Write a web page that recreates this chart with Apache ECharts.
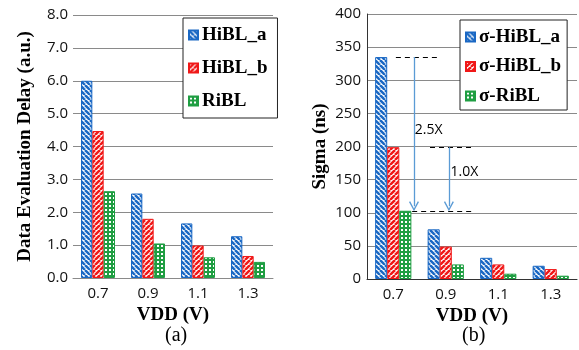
<!DOCTYPE html>
<html><head><meta charset="utf-8">
<script src="https://cdn.jsdelivr.net/npm/echarts@6/dist/echarts.min.js"></script>
<style>html,body{margin:0;padding:0;background:#fff}#c{width:579px;height:350px}</style>
</head><body><div id="c"></div>
<script>
const categories = ['0.7', '0.9', '1.1', '1.3'];
const delayHiBLa = [6.0, 2.57, 1.66, 1.27];
const delayHiBLb = [4.47, 1.8, 0.99, 0.67];
const delayRiBL = [2.64, 1.05, 0.63, 0.49];
const sigmaHiBLa = [335, 75, 32, 20];
const sigmaHiBLb = [199, 49, 22, 15];
const sigmaRiBL = [103, 22, 8, 5];
const delayNames = ['HiBL_a', 'HiBL_b', 'RiBL'];
const sigmaNames = ['σ-HiBL_a', 'σ-HiBL_b', 'σ-RiBL'];
const ratioLabels = ['2.5X', '1.0X'];

const BLUE = '#1a68c4', RED = '#f01818', GREEN = '#1f9e42';

function stripe(color, back) {
  const s = 5, c = document.createElement('canvas');
  c.width = c.height = s;
  const g = c.getContext('2d');
  g.fillStyle = '#fff'; g.fillRect(0, 0, s, s);
  g.strokeStyle = color; g.lineWidth = 2.5;
  for (let k = -1; k <= 1; k++) {
    g.beginPath();
    if (back) { g.moveTo(k * s, 0); g.lineTo(k * s + s, s); }
    else { g.moveTo(k * s, s); g.lineTo(k * s + s, 0); }
    g.stroke();
  }
  return { image: c, repeat: 'repeat' };
}
function check(color) {
  const s = 4, c = document.createElement('canvas');
  c.width = c.height = s;
  const g = c.getContext('2d');
  g.fillStyle = color; g.fillRect(0, 0, s, s);
  g.fillStyle = '#fff';
  g.fillRect(1, 1, 2, 2);
  return { image: c, repeat: 'repeat' };
}
const fills = [stripe(BLUE, true), stripe(RED, false), check(GREEN)];
const borders = [BLUE, RED, GREEN];

const serifBold = { fontFamily: 'Liberation Serif', fontWeight: 'bold', color: '#000' };
const tickFont = { fontFamily: 'Open Sans', fontSize: 15, color: '#111' };
const gridLine = { lineStyle: { color: '#8a8a8a', width: 1 } };

function barSeries(name, data, i, axis) {
  return {
    type: 'bar', name, data, xAxisIndex: axis, yAxisIndex: axis,
    barGap: '0%', barCategoryGap: axis === 0 ? '32%' : '31%',
    itemStyle: { color: fills[i], borderColor: borders[i], borderWidth: 1 },
    emphasis: { disabled: true }
  };
}

const dash = { type: [5, 4], color: '#000', width: 1.2, opacity: 1 };
const arrowStyle = { color: '#5b9bd5', width: 1.3, type: 'solid', opacity: 1 };
const chevron = 'path://M0,9 L5,0 L10,9 L8.8,9.8 L5,2.6 L1.2,9.8 Z';

const option = {
  animation: false,
  grid: [
    { left: 73, top: 15, width: 200, height: 263 },
    { left: 367, top: 14, width: 210, height: 265 }
  ],
  xAxis: [
    { type: 'category', gridIndex: 0, data: categories,
      axisLine: { lineStyle: { color: '#8a8a8a' } }, axisTick: { show: false },
      axisLabel: { ...tickFont, margin: 8 },
      name: 'VDD (V)', nameLocation: 'middle', nameGap: 25,
      nameTextStyle: { ...serifBold, fontSize: 19 } },
    { type: 'category', gridIndex: 1, data: categories,
      axisLine: { lineStyle: { color: '#333' } }, axisTick: { show: false },
      axisLabel: { ...tickFont, margin: 8 },
      name: 'VDD (V)', nameLocation: 'middle', nameGap: 24,
      nameTextStyle: { ...serifBold, fontSize: 19 } },
    { type: 'value', gridIndex: 1, min: -0.5, max: 3.5, show: false }
  ],
  yAxis: [
    { type: 'value', gridIndex: 0, min: 0, max: 8, interval: 1,
      axisLine: { show: false }, axisTick: { show: false }, splitLine: gridLine,
      axisLabel: { ...tickFont, margin: 5, formatter: v => v.toFixed(1) },
      name: 'Data Evaluation Delay (a.u.)', nameLocation: 'middle', nameGap: 38,
      nameTextStyle: { ...serifBold, fontSize: 19 } },
    { type: 'value', gridIndex: 1, min: 0, max: 400, interval: 50,
      axisLine: { show: true, onZero: false, lineStyle: { color: '#333' } }, axisTick: { show: false }, splitLine: gridLine,
      axisLabel: { ...tickFont, margin: 6 },
      name: 'Sigma (ns)', nameLocation: 'middle', nameGap: 37,
      nameTextStyle: { ...serifBold, fontSize: 19 } }
  ],
  legend: [
    { data: delayNames, orient: 'vertical', left: 183, top: 18, width: 80,
      padding: [5, 10, 5, 5], itemGap: 9, itemWidth: 9, itemHeight: 9,
      borderColor: '#222', borderWidth: 1, backgroundColor: '#fff', icon: 'rect',
      textStyle: { ...serifBold, fontSize: 19, lineHeight: 24, padding: [0, 0, 0, -1] } },
    { data: sigmaNames, orient: 'vertical', left: 460, top: 20, width: 104,
      padding: [6, 6, 3, 5], itemGap: 7.5, itemWidth: 9, itemHeight: 9,
      borderColor: '#222', borderWidth: 1, backgroundColor: '#fff', icon: 'rect',
      textStyle: { ...serifBold, fontSize: 19, lineHeight: 22, padding: [0, 0, 0, -1] } }
  ],
  series: [
    barSeries(delayNames[0], delayHiBLa, 0, 0),
    barSeries(delayNames[1], delayHiBLb, 1, 0),
    barSeries(delayNames[2], delayRiBL, 2, 0),
    barSeries(sigmaNames[0], sigmaHiBLa, 0, 1),
    barSeries(sigmaNames[1], sigmaHiBLb, 1, 1),
    barSeries(sigmaNames[2], sigmaRiBL, 2, 1),
    { type: 'lines', coordinateSystem: 'cartesian2d', xAxisIndex: 2, yAxisIndex: 1,
      symbol: 'none', lineStyle: dash, silent: true, z: 5,
      data: [
        { coords: [[0.05, sigmaHiBLa[0]], [0.89, sigmaHiBLa[0]]] },
        { coords: [[0.70, sigmaHiBLb[0]], [1.52, sigmaHiBLb[0]]] },
        { coords: [[0.36, sigmaRiBL[0]], [1.52, sigmaRiBL[0]]] }
      ] },
    { type: 'lines', coordinateSystem: 'cartesian2d', xAxisIndex: 2, yAxisIndex: 1,
      symbol: ['none', chevron], symbolSize: [11, 10], lineStyle: arrowStyle, silent: true, z: 6,
      data: [
        { coords: [[0.395, sigmaHiBLa[0]], [0.395, sigmaRiBL[0] + 7]] },
        { coords: [[1.06, sigmaHiBLb[0]], [1.06, sigmaRiBL[0] + 7]] }
      ] },
    { type: 'scatter', xAxisIndex: 2, yAxisIndex: 1, symbolSize: 0, silent: true, z: 7,
      itemStyle: { opacity: 1, color: '#000' },
      label: { show: true, position: 'right', distance: 0, formatter: p => p.data[2],
        fontFamily: 'Open Sans', fontSize: 14, color: '#000', opacity: 1 },
      data: [[0.41, 225, ratioLabels[0]], [1.09, 162, ratioLabels[1]]] }
  ],
  graphic: [
    { type: 'text', left: 165, top: 326, style: { text: '(a)', font: '20px "Liberation Serif"', fill: '#000' } },
    { type: 'text', left: 462, top: 326, style: { text: '(b)', font: '20px "Liberation Serif"', fill: '#000' } }
  ]
};
const chart = echarts.init(document.getElementById('c'), null, { renderer: 'canvas' });
chart.setOption(option);
</script></body></html>
